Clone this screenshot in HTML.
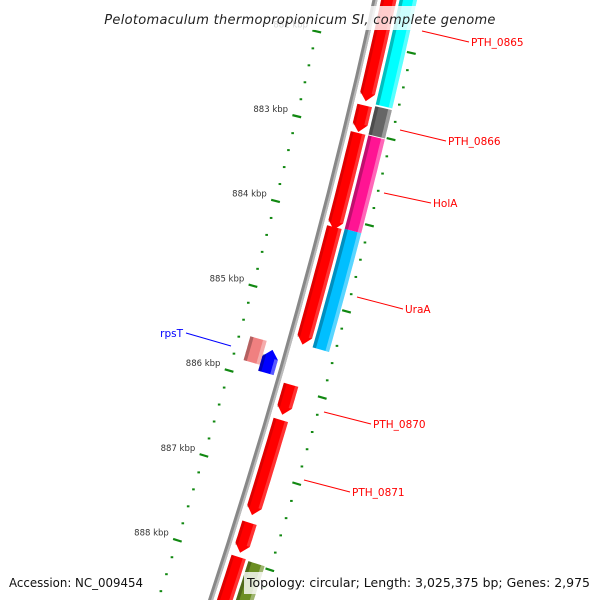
<!DOCTYPE html>
<html><head><meta charset="utf-8"><style>
html,body{margin:0;padding:0;background:#fff;width:600px;height:600px;overflow:hidden;position:relative}
svg{display:block;position:absolute;left:0;top:0;font-family:"DejaVu Sans","Liberation Sans",sans-serif;overflow:hidden}
</style></head><body>
<svg id="map" width="600" height="600" viewBox="0 0 600 600" xmlns="http://www.w3.org/2000/svg">
<g id="g-ticks"></g>
<g id="g-back"></g>
<g id="g-genes"></g>
<g id="g-labels"></g>
<rect x="95" y="6" width="410" height="24" fill="#fff" opacity="0.8"/>
<text x="300" y="24" text-anchor="middle" font-style="italic" font-size="13" fill="#222" letter-spacing="0.3">Pelotomaculum thermopropionicum SI, complete genome</text>
<rect x="244" y="572" width="350" height="22" fill="#fff" opacity="0.8"/>
<text x="9" y="587" font-size="12.5" fill="#111" textLength="134" lengthAdjust="spacingAndGlyphs">Accession: NC_009454</text>
<text x="247" y="587" font-size="12.5" fill="#111" textLength="343" lengthAdjust="spacingAndGlyphs">Topology: circular; Length: 3,025,375 bp; Genes: 2,975</text>
</svg>
<script>
// ruler (kbp)
const majorTicks = [882, 883, 884, 885, 886, 887, 888, 889];
const majorLabels = ["882 kbp","883 kbp","884 kbp","885 kbp","886 kbp","887 kbp","888 kbp","889 kbp"];
// forward strand red genes [start kbp, end kbp]
const redStarts = [881.27, 882.70, 883.02, 884.12, 885.96, 886.37, 887.57, 887.97];
const redEnds   = [882.65, 883.01, 884.15, 885.49, 886.31, 887.48, 887.92, 888.99];
// COG-coloured genes
const cogStarts = [881.27, 882.68, 883.02, 884.11, 887.98];
const cogEnds   = [882.66, 883.01, 884.11, 885.49, 888.99];
const cogColors = ["#00ffff", "#666666", "#ff1493", "#00bfff", "#6b8e23"];
// reverse strand genes
const revStarts = [885.56, 885.64];
const revEnds   = [885.84, 885.91];
const revColors = ["#f08080", "#0000ff"];
const revArrow  = [false, true];
// labels
const labelNames  = ["PTH_0865","PTH_0866","HolA","UraA","PTH_0870","PTH_0871","rpsT"];
const labelColors = ["red","red","red","red","red","red","blue"];

const NS="http://www.w3.org/2000/svg";
function xs(s){return 375-0.22*s-0.00009*s*s;}
function dx(s){return -0.22-0.00018*s;}
function sOf(k){return 128+(k-883)*85.5;}
function pt(s,off){const d=dx(s);const n=Math.hypot(1,d);return [xs(s)+off/n, s-off*d/n];}
function mk(tag,attrs,parent){const e=document.createElementNS(NS,tag);for(const k in attrs)e.setAttribute(k,attrs[k]);parent.appendChild(e);return e;}
function bandPath(s0,s1,o0,o1,arrowEnd,arrowStart){
  const p=[];const N=12;const ah=8;
  let a0=s0,a1=s1;
  if(arrowEnd)a1=Math.max(s0,s1-ah);
  if(arrowStart)a0=Math.min(s1,s0+ah);
  if(arrowStart)p.push(pt(s0,(o0+o1)/2));
  for(let i=0;i<=N;i++){const s=a0+(a1-a0)*i/N;p.push(pt(s,o1));}
  if(arrowEnd)p.push(pt(s1,(o0+o1)/2));
  for(let i=N;i>=0;i--){const s=a0+(a1-a0)*i/N;p.push(pt(s,o0));}
  return p.map(q=>q[0].toFixed(1)+","+q[1].toFixed(1)).join(" ");
}
function gene(parent,s0,s1,o0,o1,col,dark,light,aEnd,aStart,name){
  const g=mk("g",{},parent);
  
  
  const w=o1-o0;
  mk("polygon",{points:bandPath(s0,s1,o0,o1,aEnd,aStart),fill:col},g);
  mk("polygon",{points:bandPath(s0+(aStart?6:0),s1-(aEnd?6:0),o0,o0+w*0.2,false,false),fill:dark,opacity:0.25},g);
  mk("polygon",{points:bandPath(s0+(aStart?8:0),s1-(aEnd?8:0),o1-w*0.22,o1,false,false),fill:light,opacity:0.35},g);
}
// backbone
const gb=document.getElementById("g-back");
const bb=mk("polygon",{points:bandPath(-40,660,-2.5,2.5,false,false),fill:"#888"},gb);


mk("polygon",{points:bandPath(-40,660,0.5,2.5,false,false),fill:"#bbb"},gb);
// ticks
const gt=document.getElementById("g-ticks");
for(const side of [-50,47]){
  for(let i=0;i<majorTicks.length;i++){
    const k=majorTicks[i];
    const s=sOf(k);
    const a=pt(s,side-4.5),b=pt(s,side+4.5);
    const t=mk("line",{x1:a[0],y1:a[1],x2:b[0],y2:b[1],stroke:"#118811","stroke-width":2.2},gt);
    
    
    if(side<0){
      const l=pt(s,side-9);
      const tx=mk("text",{x:l[0],y:l[1]-2,"text-anchor":"end","font-size":8.5,fill:"#333"},gt);
      tx.textContent=majorLabels[i];
      
      
    }
    for(let j=1;j<5;j++){
      const sm=sOf(k+j*0.2);const c=pt(sm,side);
      const d=mk("rect",{x:c[0]-1.3,y:c[1]-1,width:2.6,height:2,fill:"#118811"},gt);
      
      
    }
  }
}
// genes
const gg=document.getElementById("g-genes");
for(let i=0;i<redStarts.length;i++){
  gene(gg,sOf(redStarts[i]),sOf(redEnds[i]),6,21,"#ff0000","#800000","#ff9090",true,false,"forward-gene-"+(i+1));
}
for(let i=0;i<cogStarts.length;i++){
  gene(gg,sOf(cogStarts[i]),sOf(cogEnds[i]),24,41,cogColors[i],"#000","#fff",false,false,"cog-gene-"+(i+1));
}
for(let i=0;i<revStarts.length;i++){
  const o0=i===0?-39:-22,o1=i===0?-22:-6;
  gene(gg,sOf(revStarts[i]),sOf(revEnds[i]),o0,o1,revColors[i],"#000","#fff",false,revArrow[i],"reverse-gene-"+(i+1));
}
// labels (line start, line end / text anchor)
const gl=document.getElementById("g-labels");
const lx1=[422,400,384,357,324,304,231], ly1=[31,130,193,297,412,480,346];
const lx2=[469,446,431,403,371,350,186], ly2=[42,141,203,309,424,492,333];
for(let i=0;i<labelNames.length;i++){
  const ln=mk("line",{x1:lx1[i],y1:ly1[i],x2:lx2[i],y2:ly2[i],stroke:labelColors[i],"stroke-width":1},gl);
  
  
  const left=labelColors[i]==="blue";
  const t=mk("text",{x:left?lx2[i]-3:lx2[i]+2,y:ly2[i]+4,"text-anchor":left?"end":"start","font-size":10.5,fill:labelColors[i]},gl);
  t.textContent=labelNames[i];
  
  
}
</script>
</body></html>
